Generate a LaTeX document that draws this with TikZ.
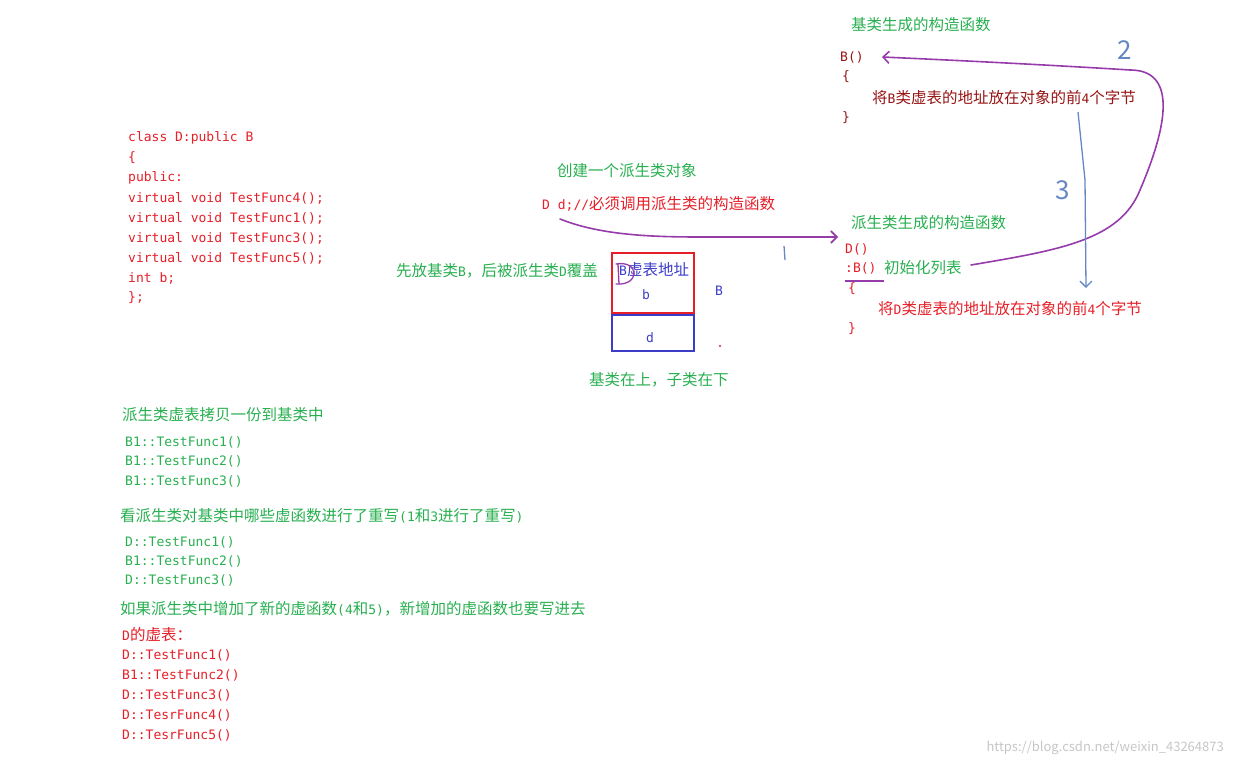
\documentclass[tikz,border=0pt]{standalone}
\usepackage{fontspec}
\setmainfont{Noto Sans CJK SC}
\newfontfamily\monof{DejaVu Sans Mono}
\newcommand{\m}[1]{{\monof\fontsize{13}{13}\selectfont #1}}
\usetikzlibrary{arrows.meta}
\definecolor{cg}{RGB}{40,175,80}
\definecolor{cr}{RGB}{230,30,40}
\definecolor{cb}{RGB}{60,60,200}
\definecolor{cd}{RGB}{150,20,20}
\definecolor{cp}{RGB}{150,60,170}
\definecolor{cs}{RGB}{100,135,195}
\tikzset{t/.style={anchor=west,inner sep=0pt,font=\fontsize{15.5}{15.5}\selectfont},
 pen/.style={line width=1.6pt,line cap=round,line join=round},
 hd/.style={-{Straight Barb[length=6pt,width=12pt]}}}
\begin{document}
\begin{tikzpicture}[x=1pt,y=-1pt]
\useasboundingbox (0,0) rectangle (1234,767);
\foreach \s [count=\i] in {class D:public B,\{,public:,virtual void TestFunc4();,virtual void TestFunc1();,virtual void TestFunc3();,virtual void TestFunc5();,int b;,\};}
  \node[t,cr] (c\i) at (128,118+20*\i) {\m{\s}};
\node[t,cg] (n1) at (557,171) {创建一个派生类对象};
\node[t,cr] (n2) at (542,204) {\m{D d;//}必须调用派生类的构造函数};
\node[t,cg] (n3) at (396,271) {先放基类\m{B}，后被派生类\m{D}覆盖};
\draw[cr,line width=2.5pt] (612,253) rectangle (694,313);
\draw[cb,line width=2.5pt] (612,315) rectangle (694,351);
\node[t,cb] (va) at (619,270) {\m{B}虚表地址};
\draw[cp,pen,line width=1.3pt] (618,264) -- (619,284) (616,264) .. controls (640,260) and (640,286) .. (616,284);
\node[t,cb] (lb) at (642,295) {\m{b}};
\node[t,cb] (ld) at (646,338) {\m{d}};
\node[t,cb] (lB) at (715,291) {\m{B}};
\fill[cr] (720,346) circle (1.2);
\node[t,cg] (n4) at (589,380) {基类在上，子类在下};
\node[t,cg] (h1) at (851,25) {基类生成的构造函数};
\node[t,cd] (B0) at (840,57) {\m{B()}};
\node[t,cd] (b1) at (842,77) {\m{\{}};
\node[t,cd] (b2) at (872,98) {将\m{B}类虚表的地址放在对象的前\m{4}个字节};
\node[t,cd] (b3) at (842,118) {\m{\}}};
\node[t,cg] (h2) at (851,223) {派生类生成的构造函数};
\node[t,cr] (D0) at (845,249) {\m{D()}};
\node[t,cr] (D1) at (845,268) {\m{:B()}};
\node[t,cg] (il) at (884,268) {初始化列表};
\node[t,cr] (d1) at (848,289) {\m{\{}};
\node[t,cr] (d2) at (878,309) {将\m{D}类虚表的地址放在对象的前\m{4}个字节};
\node[t,cr] (d3) at (848,329) {\m{\}}};
\draw[cp,line width=1.2pt] (845,281) -- (884,281);
\coordinate (s1) at (560,219);
\coordinate (e1) at (838,237);
\draw[cp,pen,hd] (s1) .. controls (600,235) and (650,237) .. (700,237) -- (e1);
\draw[cs,line width=1.3pt] (784,246) -- (785,260);
\coordinate (s2) at (971,265);
\coordinate (e2) at (882,57);
\draw[cp,pen,hd] (s2) .. controls (1060,250) and (1120,240) .. (1140,190) .. controls (1170,120) and (1175,70) .. (1130,70) .. controls (1050,65) and (950,60) .. (e2);
\node[cs,font=\fontsize{26}{26}\selectfont,inner sep=0pt] (two) at (1125,50) {2};
\coordinate (s3) at (1078,112);
\coordinate (e3) at (1086,288);
\draw[cs,line width=1.3pt,hd] (s3) -- (1085,180) -- (e3);
\node[cs,font=\fontsize{26}{26}\selectfont,inner sep=0pt] (three) at (1063,190) {3};
\node[t,cg] (m1) at (122,415) {派生类虚表拷贝一份到基类中};
\node[t,cg] (m2) at (125,442) {\m{B1::TestFunc1()}};
\node[t,cg] (m3) at (125,461) {\m{B1::TestFunc2()}};
\node[t,cg] (m4) at (125,481) {\m{B1::TestFunc3()}};
\node[t,cg] (m5) at (120,516) {看派生类对基类中哪些虚函数进行了重写\m{(1}和\m{3}进行了重写\m{)}};
\node[t,cg] (m6) at (125,542) {\m{D::TestFunc1()}};
\node[t,cg] (m7) at (125,561) {\m{B1::TestFunc2()}};
\node[t,cg] (m8) at (125,580) {\m{D::TestFunc3()}};
\node[t,cg] (m9) at (120,609) {如果派生类中增加了新的虚函数\m{(4}和\m{5)}，新增加的虚函数也要写进去};
\node[t,cr] (r0) at (122,635) {\m{D}的虚表：};
\foreach \s [count=\i] in {D::TestFunc1(),B1::TestFunc2(),D::TestFunc3(),D::TesrFunc4(),D::TesrFunc5()}
  \node[t,cr] (r\i) at (122,635+20*\i) {\m{\s}};
\node[anchor=east,inner sep=0pt,gray!45,font=\fontsize{13}{13}\selectfont] (wm) at (1224,748) {https://blog.csdn.net/weixin\_43264873};
\end{tikzpicture}
\end{document}
